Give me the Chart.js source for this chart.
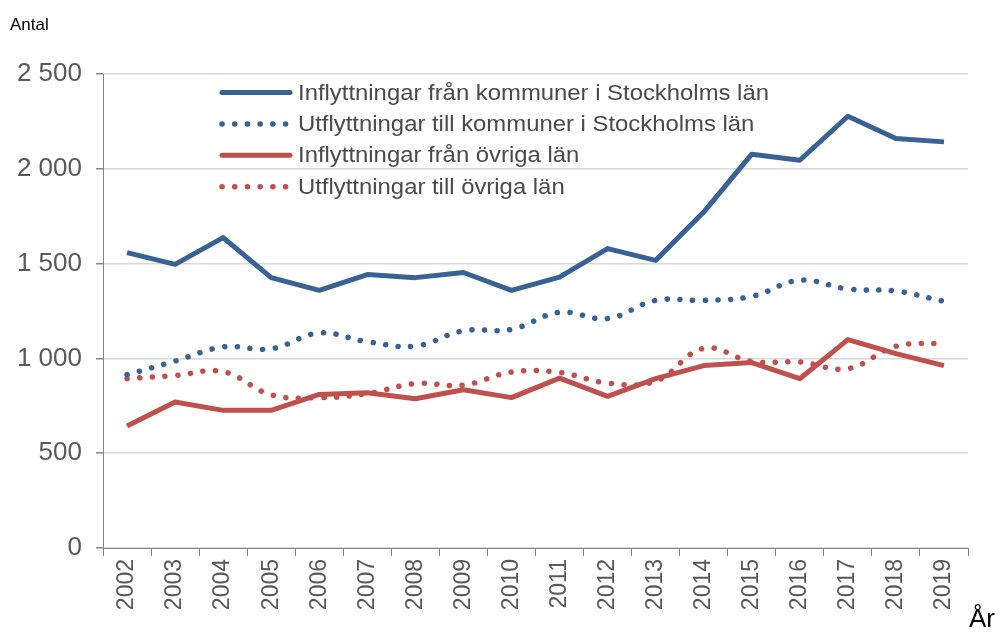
<!DOCTYPE html>
<html>
<head>
<meta charset="utf-8">
<script src="https://cdn.jsdelivr.net/npm/chart.js@4.4.0/dist/chart.umd.min.js"></script>
<style>
  body { margin: 0; background: #fff; font-family: "Liberation Sans", Arial, sans-serif; }
  #wrap { position: relative; width: 1002px; height: 635px; }
  #antal { position: absolute; left: 10px; top: 15px; font-size: 17px; color: #000; }
  #ar { position: absolute; left: 969px; top: 603px; font-size: 26px; color: #000; }
</style>
</head>
<body>
<div id="wrap">
  <canvas id="grafico" width="1002" height="635"></canvas>
  <div id="antal">Antal</div>
  <div id="ar">År</div>
</div>
<script>
const ar = ['2002', '2003', '2004', '2005', '2006', '2007', '2008', '2009', '2010',
  '2011', '2012', '2013', '2014', '2015', '2016', '2017', '2018', '2019'];

const inflyttStockholm = [1558, 1496, 1637, 1426, 1359, 1442, 1426, 1453, 1359,
  1429, 1579, 1517, 1772, 2077, 2045, 2277, 2160, 2142];
const utflyttStockholm = [914, 986, 1060, 1051, 1134, 1088, 1065, 1146, 1153,
  1243, 1210, 1306, 1306, 1327, 1412, 1366, 1355, 1301];
const inflyttOvriga = [643, 770, 726, 726, 810, 819, 787, 835, 793,
  896, 800, 893, 962, 978, 893, 1099, 1025, 962];
const utflyttOvriga = [893, 910, 930, 808, 793, 814, 867, 859, 928,
  926, 870, 880, 1053, 984, 981, 946, 1064, 1080];

const etiquetas = [
  'Inflyttningar från kommuner i Stockholms län',
  'Utflyttningar till kommuner i Stockholms län',
  'Inflyttningar från övriga län',
  'Utflyttningar till övriga län'
];

const azul = '#386194';
const rojo = '#C0504D';
const punteado = [0.1, 12.6];

// leyenda dentro del area del grafico
const leyendaPlugin = {
  id: 'leyenda',
  afterDraw(chart) {
    const ctx = chart.ctx;
    ctx.save();
    chart.data.datasets.forEach((ds, i) => {
      const y = 92.5 + i * 31.4;
      ctx.beginPath();
      ctx.strokeStyle = ds.borderColor;
      ctx.lineWidth = ds.borderWidth;
      ctx.lineCap = 'round';
      ctx.setLineDash(ds.borderDash || []);
      ctx.moveTo(222, y);
      ctx.lineTo(290, y);
      ctx.stroke();
      ctx.setLineDash([]);

      // el texto del original sale un poco ensanchado
      ctx.save();
      ctx.translate(298, y + 1);
      ctx.scale(1.085, 1);
      ctx.fillStyle = '#4a4a4a';
      ctx.font = '22px "Liberation Sans", Arial, sans-serif';
      ctx.textBaseline = 'middle';
      ctx.fillText(ds.label, 0, 0);
      ctx.restore();
    });
    ctx.restore();
  }
};

const ctx = document.getElementById('grafico').getContext('2d');

new Chart(ctx, {
  type: 'line',
  data: {
    labels: ar,
    datasets: [
      {
        label: etiquetas[0],
        data: inflyttStockholm,
        borderColor: azul,
        borderWidth: 5,
        tension: 0,
        order: 1
      },
      {
        label: etiquetas[1],
        data: utflyttStockholm,
        borderColor: azul,
        borderWidth: 5.5,
        borderDash: punteado,
        borderCapStyle: 'round',
        tension: 0.4,
        order: 2
      },
      {
        label: etiquetas[2],
        data: inflyttOvriga,
        borderColor: rojo,
        borderWidth: 5,
        tension: 0,
        order: 3
      },
      {
        label: etiquetas[3],
        data: utflyttOvriga,
        borderColor: rojo,
        borderWidth: 5.5,
        borderDash: punteado,
        borderCapStyle: 'round',
        tension: 0.4,
        order: 4
      }
    ]
  },
  options: {
    responsive: false,
    animation: false,
    elements: {
      point: { radius: 0 },
      line: { borderJoinStyle: 'round' }
    },
    layout: {
      padding: { top: 74, right: 34, bottom: 0, left: 0 }
    },
    plugins: {
      legend: { display: false },
      tooltip: { enabled: false }
    },
    scales: {
      x: {
        offset: true,
        grid: {
          offset: true,
          drawOnChartArea: false,
          tickLength: 8,
          tickColor: '#868686'
        },
        border: { color: '#868686', width: 1 },
        ticks: {
          color: '#595959',
          font: { family: '"Liberation Sans", Arial, sans-serif', size: 23 },
          minRotation: 90,
          maxRotation: 90,
          padding: 3,
          autoSkip: false
        },
        afterFit(scale) {
          scale.height = 87;
        }
      },
      y: {
        min: 0,
        max: 2500,
        ticks: {
          stepSize: 500,
          color: '#595959',
          font: { family: '"Liberation Sans", Arial, sans-serif', size: 26 },
          padding: 14,
          callback: function (value) {
            return String(value).replace(/\B(?=(\d{3})+(?!\d))/g, ' ');
          }
        },
        grid: {
          color: '#d9d9d9',
          lineWidth: 1.5,
          tickLength: 7,
          tickColor: '#868686'
        },
        border: { color: '#868686', width: 1 },
        afterFit(scale) {
          scale.width = 103;
        }
      }
    }
  },
  plugins: [leyendaPlugin]
});
</script>
</body>
</html>
